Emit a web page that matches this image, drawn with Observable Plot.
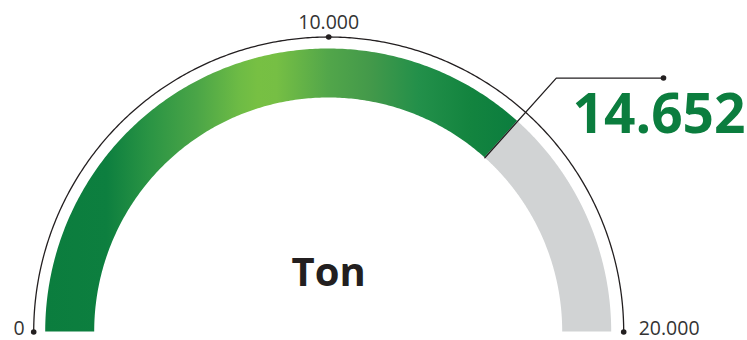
<!DOCTYPE html>
<html>
<head>
<meta charset="utf-8">
<script src="https://cdn.jsdelivr.net/npm/d3@7"></script>
<script src="https://cdn.jsdelivr.net/npm/@observablehq/plot@0.6"></script>
<style>
  html, body { margin: 0; padding: 0; background: #fff; }
  #chart svg { display: block; }
</style>
</head>
<body>
<div id="chart"></div>
<script>
// Gauge values
const gaugeMin = 0;
const gaugeMax = 20000;
const gaugeValue = 14652;
const unitLabel = "Ton";
const tickValues = [0, 10000, 20000];
const tickLabels = ["0", "10.000", "20.000"];

// Number format with "." as thousands separator
const fmt = d3.formatLocale({decimal: ",", thousands: ".", grouping: [3], currency: ["", ""]}).format(",d");

// Layout (pixels)
const W = 747, H = 340;
const cx = 328.2, cy = 331.5, unit = 283;
const R_OUT = 1, R_IN = 234 / 283, R_RIM = 295 / 283, R_ELBOW = 341 / 283;
const LEADER_END_X = (663 - cx) / unit;

// Value -> angle on the half circle (left = min, right = max)
const angle = d3.scaleLinear().domain([gaugeMin, gaugeMax]).range([Math.PI, 0]);
const px = (v, r) => r * Math.cos(angle(v));
const py = (v, r) => r * Math.sin(angle(v));
const sweep = (a, b, n = 240) => d3.range(n + 1).map(i => a + (b - a) * i / n);

const filled = sweep(gaugeMin, gaugeValue);
const rest = sweep(gaugeValue, gaugeMax);
const rim = sweep(gaugeMin, gaugeMax, 400);

const ticks = tickValues.map((v, i) => ({v, label: tickLabels[i]}));

// Leader line from the value edge: radial out, then horizontal
const elbow = [px(gaugeValue, R_ELBOW), py(gaugeValue, R_ELBOW)];
const leader = [
  [px(gaugeValue, R_IN), py(gaugeValue, R_IN)],
  elbow,
  [LEADER_END_X, elbow[1]]
];

const band = (data, fill) => Plot.area(data, {
  x1: v => px(v, R_OUT), y1: v => py(v, R_OUT),
  x2: v => px(v, R_IN), y2: v => py(v, R_IN),
  fill
});

// Horizontal green gradient for the filled part of the band
const defs = () => {
  const d = d3.create("svg:defs");
  const g = d.append("linearGradient")
    .attr("id", "gaugeGradient")
    .attr("x1", 0).attr("x2", 1).attr("y1", 0).attr("y2", 0);
  [[0, "#0b7d3e"], [0.13, "#0d7f3f"], [0.22, "#2a9444"], [0.32, "#4aa547"], [0.41, "#6dbb45"],
   [0.45, "#77c043"], [0.49, "#76bf44"], [0.6, "#52a64a"], [0.69, "#43994a"], [0.79, "#23904a"],
   [0.9, "#13843f"], [1, "#0b7d3e"]]
    .forEach(([o, c]) => g.append("stop").attr("offset", o).attr("stop-color", c));
  return d.node();
};

const font = "'Open Sans', 'Noto Sans', sans-serif";

const chart = Plot.plot({
  width: W,
  height: H,
  margin: 0,
  x: {domain: [-cx / unit, (W - cx) / unit], axis: null},
  y: {domain: [-(H - cy) / unit, cy / unit], axis: null},
  style: {background: "#fff", overflow: "visible"},
  marks: [
    defs,
    band(rest, "#d1d3d4"),
    band(filled, "url(#gaugeGradient)"),
    Plot.line(rim, {x: v => px(v, R_RIM), y: v => py(v, R_RIM), stroke: "#231f20", strokeWidth: 1.3}),
    Plot.dot(ticks, {x: d => px(d.v, R_RIM), y: d => py(d.v, R_RIM), r: 2.8, fill: "#231f20"}),
    Plot.text(ticks.slice(0, 1), {x: d => px(d.v, R_RIM), y: d => py(d.v, R_RIM), text: "label", textAnchor: "end", lineAnchor: "bottom", dx: -9, dy: 3, fontSize: 19.5, fontFamily: font, fill: "#333"}),
    Plot.text(ticks.slice(1, 2), {x: d => px(d.v, R_RIM), y: d => py(d.v, R_RIM), text: "label", textAnchor: "middle", lineAnchor: "bottom", dy: -8, fontSize: 19.5, fontFamily: font, fill: "#333"}),
    Plot.text(ticks.slice(2), {x: d => px(d.v, R_RIM), y: d => py(d.v, R_RIM), text: "label", textAnchor: "start", lineAnchor: "bottom", dx: 15, dy: 3, fontSize: 19.5, fontFamily: font, fill: "#333"}),
    Plot.line(leader, {x: d => d[0], y: d => d[1], stroke: "#231f20", strokeWidth: 1.3}),
    Plot.dot([leader[2]], {x: d => d[0], y: d => d[1], r: 2.8, fill: "#231f20"}),
    Plot.text([gaugeValue], {x: LEADER_END_X, y: elbow[1], text: d => fmt(d), textAnchor: "end", lineAnchor: "bottom", dx: 82, dy: 55, fontSize: 55, fontWeight: 700, fontFamily: font, fill: "#0b7d3e"}),
    Plot.text([unitLabel], {x: 0, y: (cy - 285) / unit, text: d => d, textAnchor: "middle", lineAnchor: "bottom", fontSize: 40, fontWeight: 700, fontFamily: font, fill: "#231f20"})
  ]
});

document.getElementById("chart").append(chart);
</script>
</body>
</html>
